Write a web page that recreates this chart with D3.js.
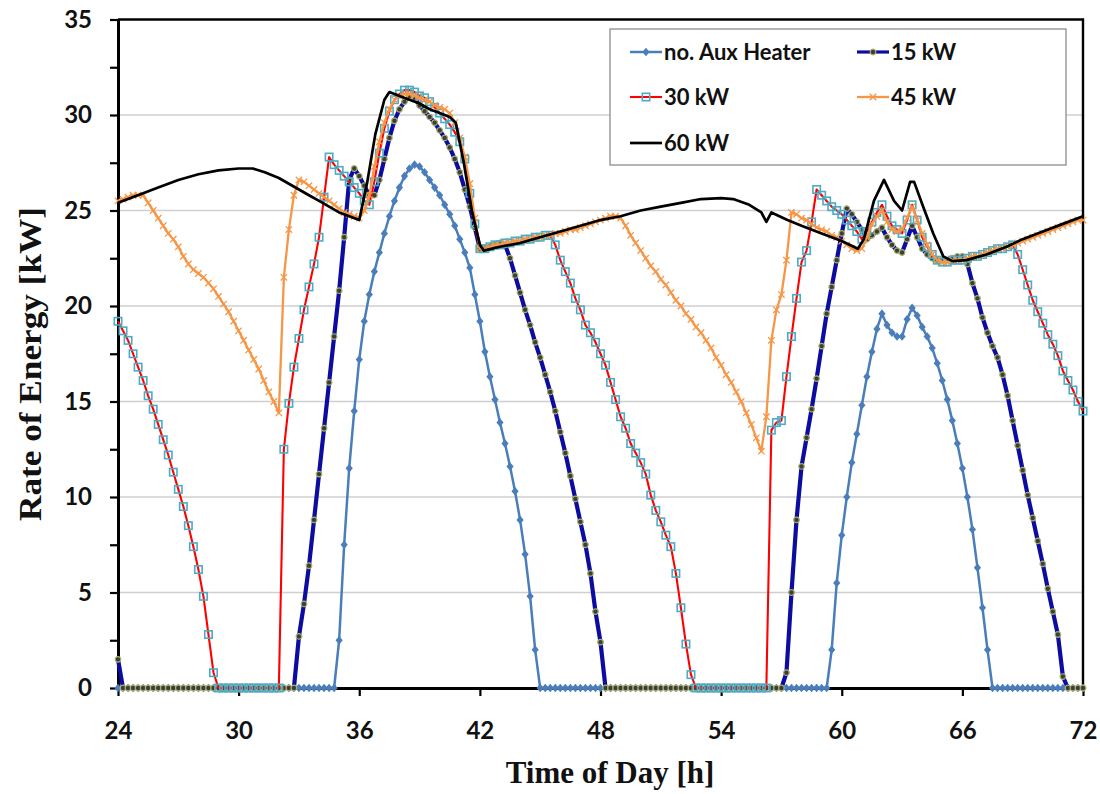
<!DOCTYPE html>
<html>
<head>
<meta charset="utf-8">
<script src="https://cdn.jsdelivr.net/npm/d3@7"></script>
<style>
  html, body { margin: 0; padding: 0; background: #ffffff; }
  svg { display: block; }
</style>
</head>
<body>
<svg id="chart" width="1100" height="794"></svg>
<script>
// Simulation output sampled every 15 minutes from hour 24 to hour 72.
const startHour = 24;
const stepHours = 0.25;

// Rate of energy [kW], one row per hour (four quarter-hour samples each)
const noAux = [
  0,0,0,0, 0,0,0,0, 0,0,0,0, 0,0,0,0, 0,0,0,0, 0,0,0,0,
  0,0,0,0, 0,0,0,0, 0,0,0,0, 0,0,0,0, 0,0,0,0,
  2.5,7.5,11.5,14.5,
  17.2,19.2,20.6,21.8,
  22.8,23.8,24.7,25.5,
  26.2,26.8,27.2,27.4,
  27.3,27.0,26.6,26.2,
  25.8,25.3,24.8,24.2,
  23.5,22.8,22.0,20.6,
  19.2,17.6,16.3,15.1,
  13.9,12.8,11.6,10.3,
  8.8,7.0,4.8,2.0,
  0,0,0,0, 0,0,0,0, 0,0,0,0, 0,0,0,0, 0,0,0,0, 0,0,0,0, 0,0,0,0,
  0,0,0,0, 0,0,0,0, 0,0,0,0, 0,0,0,0, 0,0,0,0, 0,0,0,0, 0,0,0,0,
  0,0,2.0,5.5,
  8.0,10.0,11.8,13.3,
  14.8,16.3,17.6,18.8,
  19.6,19.0,18.6,18.4,
  18.4,19.3,19.9,19.5,
  18.9,18.4,17.8,17.0,
  16.1,15.1,14.0,12.8,
  11.5,10.0,8.3,6.3,
  4.2,2.0,0,0,
  0,0,0,0, 0,0,0,0, 0,0,0,0, 0,0,0,0,
  0
];

const aux15 = [
  1.5,0,0,0,
  0,0,0,0, 0,0,0,0, 0,0,0,0, 0,0,0,0, 0,0,0,0, 0,0,0,0, 0,0,0,0, 0,0,0,0,
  2.7,4.4,6.4,8.8,
  11.2,13.6,16.0,18.4,
  20.8,23.6,26.6,27.2,
  26.8,26.3,25.8,25.8,
  26.6,27.7,28.8,29.7,
  30.3,30.7,31.0,30.9,
  30.5,30.2,29.9,29.6,
  29.2,28.8,28.3,27.7,
  27.0,26.1,25.2,24.1,
  23.0,23.0,23.1,23.2,
  23.3,23.2,22.5,21.6,
  20.7,19.8,19.0,18.1,
  17.3,16.4,15.5,14.5,
  13.4,12.3,11.1,9.9,
  8.7,7.5,6.0,4.0,
  2.4,0,0,0,
  0,0,0,0, 0,0,0,0, 0,0,0,0, 0,0,0,0, 0,0,0,0, 0,0,0,0, 0,0,0,0, 0,0,0,0,
  0,0.8,5.0,8.8,
  11.6,13.1,14.6,16.2,
  17.9,19.6,21.0,22.4,
  23.8,25.1,24.8,24.4,
  24.0,23.5,23.7,23.9,
  24.1,23.6,23.2,22.9,
  22.8,23.5,24.2,23.6,
  23.0,22.7,22.5,22.4,
  22.4,22.4,22.5,22.6,
  22.6,22.2,21.2,20.4,
  19.4,18.6,17.9,17.3,
  16.4,15.3,14.0,12.7,
  11.4,10.1,8.9,7.7,
  6.5,5.2,4.0,2.8,
  0.6,0,0,0,
  0
];

const aux30 = [
  19.2,18.7,18.2,17.5,
  16.8,16.1,15.3,14.6,
  13.8,13.0,12.2,11.3,
  10.4,9.5,8.5,7.4,
  6.2,4.8,2.8,0.8,
  0,0,0,0, 0,0,0,0, 0,0,0,0,
  0,12.5,14.9,16.8,
  18.3,19.8,21.0,22.2,
  23.6,25.7,27.8,27.4,
  27.1,26.8,26.5,26.2,
  25.9,25.5,25.3,26.5,
  28.0,29.3,30.2,30.8,
  31.1,31.3,31.3,31.2,
  31.0,30.9,30.7,30.4,
  30.1,29.8,29.5,29.1,
  28.6,27.7,25.9,24.3,
  23.0,23.0,23.1,23.2,
  23.2,23.3,23.3,23.4,
  23.4,23.5,23.5,23.6,
  23.6,23.7,23.7,23.2,
  22.4,21.8,21.2,20.4,
  19.8,19.0,18.6,18.1,
  17.5,16.9,16.0,15.1,
  14.2,13.6,12.8,12.3,
  11.8,11.2,10.1,9.3,
  8.7,8.0,7.4,6.0,
  4.2,2.3,0.7,0,
  0,0,0,0, 0,0,0,0, 0,0,0,0,
  0,0,13.5,13.9,
  14.0,16.3,18.4,20.4,
  22.3,22.9,24.4,26.1,
  25.8,25.5,25.2,25.0,
  24.8,24.5,24.2,23.9,
  23.5,23.9,24.4,24.9,
  25.3,24.7,24.2,24.0,
  23.8,24.5,25.3,24.5,
  23.6,23.1,22.7,22.4,
  22.3,22.3,22.4,22.4,
  22.4,22.5,22.6,22.6,
  22.7,22.8,22.9,23.0,
  23.0,23.1,23.2,22.7,
  21.9,21.1,20.3,19.7,
  19.1,18.5,18.0,17.4,
  16.6,16.1,15.6,15.0,
  14.5
];

const aux45 = [
  25.5,25.6,25.7,25.8,
  25.8,25.8,25.4,25.0,
  24.6,24.2,23.8,23.5,
  23.1,22.6,22.2,21.9,
  21.7,21.5,21.2,20.9,
  20.5,20.1,19.7,19.2,
  18.7,18.2,17.7,17.2,
  16.7,16.1,15.5,15.0,
  14.4,21.5,24.0,25.8,
  26.6,26.5,26.3,26.1,
  25.9,25.7,25.5,25.3,
  25.1,24.9,24.8,24.7,
  24.6,25.0,25.8,27.3,
  28.6,29.6,30.3,30.8,
  31.0,31.1,31.1,31.0,
  30.9,30.8,30.7,30.5,
  30.4,30.3,30.1,29.6,
  28.8,27.8,26.4,24.6,
  23.0,23.0,23.1,23.2,
  23.2,23.3,23.3,23.4,
  23.4,23.5,23.5,23.6,
  23.6,23.7,23.7,23.8,
  23.8,23.9,24.0,24.0,
  24.1,24.2,24.3,24.4,
  24.5,24.6,24.7,24.7,
  24.6,24.2,23.7,23.3,
  22.9,22.5,22.1,21.8,
  21.4,21.1,20.7,20.3,
  20.0,19.6,19.3,18.9,
  18.6,18.2,17.8,17.3,
  16.9,16.4,16.0,15.5,
  15.0,14.4,13.8,13.1,
  12.4,14.2,18.2,19.8,
  20.6,22.4,24.9,24.8,
  24.6,24.5,24.3,24.1,
  24.0,23.9,23.7,23.6,
  23.4,23.2,23.0,22.9,
  23.0,23.6,24.3,24.7,
  25.0,24.4,24.0,23.9,
  24.0,24.6,25.2,24.5,
  23.8,23.2,22.7,22.4,
  22.3,22.3,22.4,22.4,
  22.4,22.5,22.6,22.6,
  22.7,22.8,22.9,23.0,
  23.0,23.1,23.2,23.3,
  23.4,23.5,23.6,23.7,
  23.8,23.9,24.0,24.1,
  24.2,24.3,24.4,24.5,
  24.5
];

// 60 kW case is drawn as a plain line through its own sample hours
const aux60Hours = [24, 24.5, 25.25, 26, 27, 28, 29, 30, 30.7, 31.3, 32, 32.5, 33, 33.5, 34, 34.5, 35, 35.5, 36,
  36.4, 36.8, 37.25, 37.5, 38, 38.5, 39, 39.5, 40, 40.5, 40.8, 41.2, 41.6, 42, 42.2, 43, 44, 45, 46, 47, 48, 49, 50,
  51, 52, 53, 54, 54.6, 55.4, 56, 56.25, 56.5, 57.3, 58, 59, 60, 60.8, 61.1, 61.6, 62.1, 62.6, 63, 63.4, 63.6,
  64.05, 64.55, 65.05, 65.5, 66.2, 67.2, 68.2, 69, 70, 71, 72];
const aux60 = [25.4, 25.6, 25.9, 26.2, 26.6, 26.9, 27.1, 27.2, 27.2, 27.0, 26.7, 26.4, 26.1, 25.8, 25.5, 25.2, 24.9, 24.7, 24.5,
  26.5, 29.0, 30.8, 31.2, 31.0, 30.8, 30.6, 30.3, 30.1, 29.9, 29.6, 27.5, 25.0, 23.2, 22.9, 23.1, 23.3, 23.6, 23.9, 24.2, 24.5, 24.7, 25.0,
  25.2, 25.4, 25.6, 25.65, 25.6, 25.3, 24.9, 24.4, 24.9, 24.5, 24.2, 23.8, 23.4, 23.0, 23.5, 25.5, 26.6, 25.5, 25.0, 26.5, 26.5,
  25.2, 23.8, 22.6, 22.35, 22.4, 22.7, 23.1, 23.5, 23.9, 24.3, 24.7];

const seriesNames = ["no. Aux Heater", "15 kW", "30 kW", "45 kW", "60 kW"];
const xTicks = [24, 30, 36, 42, 48, 54, 60, 66, 72];
const yTicks = [0, 5, 10, 15, 20, 25, 30, 35];
const yMinorTicks = [2.5, 7.5, 12.5, 17.5, 22.5, 27.5, 32.5];
const xTitle = "Time of Day [h]";
const yTitle = "Rate of Energy [kW]";

// ---- layout ----
const plot = { left: 118, right: 1083, top: 19.5, bottom: 688 };
const svg = d3.select("#chart");

const x = d3.scaleLinear().domain([24, 72]).range([plot.left, plot.right]);
const y = d3.scaleLinear().domain([0, 35]).range([plot.bottom, plot.top]);

const toPoints = vals => vals.map((v, i) => ({ t: startHour + i * stepHours, v }));

const styles = [
  { color: "#4a7ebb", width: 2.5, marker: "diamond" },
  { color: "#0c0ca0", width: 4.2, marker: "circle" },
  { color: "#ff0000", width: 2.1, marker: "square" },
  { color: "#f79646", width: 2.3, marker: "times" },
  { color: "#000000", width: 2.7, marker: null }
];

const seriesData = [
  toPoints(noAux),
  toPoints(aux15),
  toPoints(aux30),
  toPoints(aux45),
  aux60Hours.map((t, i) => ({ t, v: aux60[i] }))
];

// grid
svg.append("g").selectAll("line")
  .data(yTicks.filter(d => d > 0 && d < 35))
  .join("line")
  .attr("x1", plot.left).attr("x2", plot.right)
  .attr("y1", d => y(d)).attr("y2", d => y(d))
  .attr("stroke", "#cfcfcf").attr("stroke-width", 1.6);

// frame (top and right)
svg.append("path")
  .attr("d", `M${plot.left},${plot.top}H${plot.right}V${plot.bottom}`)
  .attr("fill", "none").attr("stroke", "#000").attr("stroke-width", 2.4);

const tickFont = "Lato, 'Open Sans', sans-serif";

// y axis
svg.append("g").attr("transform", `translate(${plot.left},0)`)
  .call(d3.axisLeft(y).tickValues(yTicks).tickSize(8).tickSizeOuter(0).tickPadding(18).tickFormat(d3.format("d")));
svg.append("g").attr("transform", `translate(${plot.left},0)`)
  .call(d3.axisLeft(y).tickValues(yMinorTicks).tickSize(8).tickSizeOuter(0).tickFormat(""))
  .call(g => g.select(".domain").remove());

// x axis
svg.append("g").attr("transform", `translate(0,${plot.bottom})`)
  .call(d3.axisBottom(x).tickValues(xTicks).tickSize(8).tickSizeOuter(0).tickPadding(26).tickFormat(d3.format("d")));

svg.selectAll(".domain").attr("stroke", "#000").attr("stroke-width", 3);
svg.selectAll(".tick line").attr("stroke", "#000").attr("stroke-width", 2.2);
svg.selectAll(".tick text")
  .attr("font-family", tickFont).attr("font-weight", 700)
  .attr("font-size", 24).attr("fill", "#111");

// axis titles
svg.append("text")
  .attr("x", 610).attr("y", 783)
  .attr("text-anchor", "middle")
  .attr("font-family", "'Liberation Serif', 'Times New Roman', serif")
  .attr("font-weight", 700).attr("font-size", 31).attr("fill", "#111")
  .text(xTitle);

svg.append("text")
  .attr("transform", "translate(41,364) rotate(-90)")
  .attr("text-anchor", "middle")
  .attr("font-family", "'Liberation Serif', 'Times New Roman', serif")
  .attr("font-weight", 700).attr("font-size", 31).attr("fill", "#111")
  .attr("textLength", 314).attr("lengthAdjust", "spacingAndGlyphs")
  .text(yTitle);

// marker drawing
function drawMarker(sel, kind, color) {
  if (kind === "diamond") {
    sel.append("path").attr("d", "M0,-4.3L3.6,0L0,4.3L-3.6,0Z").attr("fill", color);
  } else if (kind === "circle") {
    sel.append("circle").attr("r", 2.8).attr("fill", "#3e3e36").attr("stroke", "#a7b173").attr("stroke-width", 1.2);
  } else if (kind === "square") {
    sel.append("rect").attr("x", -3.7).attr("y", -3.7).attr("width", 7.4).attr("height", 7.4)
      .attr("fill", "none").attr("stroke", "#4bacc6").attr("stroke-width", 1.6);
  } else if (kind === "times") {
    sel.append("path").attr("d", "M-3.2,-3.2L3.2,3.2M-3.2,3.2L3.2,-3.2").attr("stroke", color).attr("stroke-width", 1.3).attr("fill", "none");
  }
}

const line = d3.line().x(d => x(d.t)).y(d => y(d.v));

seriesData.forEach((pts, i) => {
  const st = styles[i];
  const g = svg.append("g").attr("class", "series");
  g.append("path").datum(pts)
    .attr("d", line)
    .attr("fill", "none").attr("stroke", st.color).attr("stroke-width", st.width)
    .attr("stroke-linejoin", "round");
  if (st.marker) {
    g.selectAll("g.m").data(pts).join("g").attr("class", "m")
      .attr("transform", d => `translate(${x(d.t)},${y(d.v)})`)
      .each(function () { drawMarker(d3.select(this), st.marker, st.color); });
  }
});

// legend
const legend = svg.append("g");
legend.append("rect")
  .attr("x", 610).attr("y", 29).attr("width", 456).attr("height", 136)
  .attr("fill", "#ffffff").attr("stroke", "#8c8c8c").attr("stroke-width", 1.3);

const legendPos = [
  { x: 630, y: 52 }, { x: 857, y: 52 },
  { x: 630, y: 97 }, { x: 857, y: 97 },
  { x: 630, y: 143 }
];
seriesNames.forEach((name, i) => {
  const st = styles[i];
  const p = legendPos[i];
  const g = legend.append("g").attr("transform", `translate(${p.x},${p.y})`);
  g.append("line").attr("x1", 0).attr("x2", 32).attr("y1", 0).attr("y2", 0)
    .attr("stroke", st.color).attr("stroke-width", Math.min(st.width, 3.2));
  if (st.marker) {
    const m = g.append("g").attr("transform", "translate(16,0)");
    drawMarker(m, st.marker, st.color);
  }
  g.append("text").attr("x", 34).attr("y", 8)
    .attr("font-family", tickFont).attr("font-weight", 700)
    .attr("font-size", 22).attr("fill", "#111")
    .text(name);
});
</script>
</body>
</html>
